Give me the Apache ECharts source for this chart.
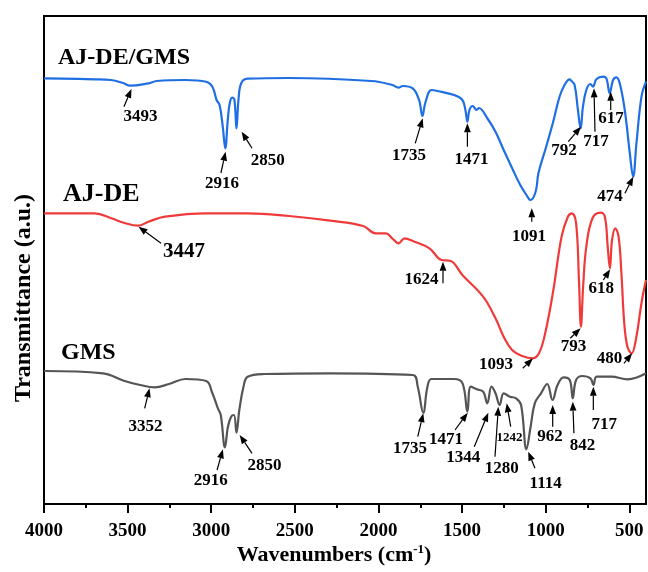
<!DOCTYPE html>
<html>
<head>
<meta charset="utf-8">
<script src="https://cdn.jsdelivr.net/npm/echarts@6/dist/echarts.min.js"></script>
<style>
  html, body { margin: 0; padding: 0; background: #fff; }
  #chart { width: 648px; height: 572px; }
</style>
</head>
<body>
<div id="chart"></div>
<script>
// ---- FTIR spectra: [wavenumber (cm-1), transmittance (a.u., offset for stacking)] ----
const xTickValues = [4000, 3500, 3000, 2500, 2000, 1500, 1000, 500];
const xMinorTicks = [3750, 3250, 2750, 2250, 1750, 1250, 750];

const seriesNames = ['AJ-DE/GMS', 'AJ-DE', 'GMS'];

const spectrumComposite = [
  [4000, 425.7], [3696, 424.7], [3600, 424], [3523, 420.7], [3487, 418.3], [3375, 420.7],
  [3326, 423], [3153, 424], [3030, 422.3], [2993, 417.3], [2968, 404], [2950, 399],
  [2931, 377.3], [2916, 355.7], [2901, 384], [2889, 401], [2874, 406.3], [2861, 404],
  [2849, 375.7], [2837, 404], [2820, 421], [2782, 425.3], [2536, 426], [2042, 423],
  [1917, 419], [1880, 416.3], [1855, 418], [1795, 415.7], [1757, 404], [1737, 388],
  [1720, 401], [1683, 414], [1646, 413], [1547, 409], [1498, 404], [1480, 394],
  [1468, 382.3], [1456, 394], [1437, 398], [1413, 394], [1399, 396], [1350, 386],
  [1300, 372.3], [1251, 354], [1201, 336], [1152, 319], [1115, 309], [1091, 304],
  [1060, 312.3], [1043, 331], [997, 357.3], [957, 381], [917, 407.3], [887, 419],
  [857, 424.7], [847, 423.3], [827, 419], [807, 394], [791, 375.7], [777, 397.3],
  [757, 414], [733, 420], [717, 417.3], [697, 424.7], [657, 427.3], [637, 425.7],
  [617, 410.7], [597, 424], [577, 426.7], [557, 420.7], [527, 394], [497, 351],
  [477, 327.3], [457, 361], [427, 407.3], [400, 422.3]
];

const spectrumExtract = [
  [4000, 290.7], [3697, 290.7], [3598, 285.7], [3523, 281.3], [3437, 278.3], [3375, 282.3],
  [3277, 287.3], [3030, 290.7], [2782, 290.7], [2535, 288], [2288, 283.3], [2091, 278],
  [2017, 270.7], [1955, 270.7], [1918, 265.7], [1880, 260.7], [1843, 265.7], [1794, 263],
  [1695, 255.7], [1622, 244], [1571, 243.3], [1498, 229], [1374, 207.3], [1300, 185.7],
  [1251, 167.3], [1201, 154], [1140, 148], [1078, 145.7], [1040, 150.7], [1003, 170.7],
  [954, 214], [905, 267.3], [867, 287.3], [843, 290.7], [818, 280.7], [801, 224],
  [789, 177.3], [776, 217.3], [757, 257.3], [720, 285.7], [671, 291.3], [646, 287.3],
  [629, 257.3], [616, 235.7], [603, 264], [584, 275.7], [564, 267.3], [547, 230.7],
  [530, 180.7], [511, 157.3], [486, 150.7], [461, 164], [424, 204], [400, 224]
];

const spectrumGms = [
  [4000, 133], [3647, 130.7], [3523, 123.3], [3425, 119], [3338, 116.7], [3252, 120],
  [3153, 125], [3030, 123], [2993, 110.7], [2960, 95.7], [2943, 89], [2918, 56.7],
  [2900, 77.3], [2881, 87.3], [2864, 89], [2849, 71.3], [2832, 94], [2807, 117.3],
  [2782, 127.3], [2683, 130], [2288, 130.7], [1794, 129], [1765, 117.3], [1732, 91.3],
  [1707, 117.3], [1683, 125], [1547, 125], [1497, 120.7], [1468, 92.3], [1448, 117.3],
  [1411, 114.7], [1374, 112.3], [1349, 100.7], [1324, 117.3], [1300, 110.7], [1275, 99],
  [1251, 110.7], [1214, 107.3], [1177, 105.7], [1147, 99], [1115, 54.7], [1090, 77.3],
  [1065, 100.7], [1028, 110.7], [991, 120], [959, 104], [929, 119], [893, 126.7],
  [856, 124], [838, 105.7], [818, 124], [781, 128], [732, 125.7], [714, 119],
  [695, 127.3], [608, 127.3], [510, 124.7], [400, 130.7]
];

// Peak labels: [text, wavenumber of arrow tip, transmittance of arrow tip]
const peaksComposite = [
  ['3493', 3477, 415], ['2916', 2914, 352.3], ['2850', 2818, 372.3], ['1735', 1735, 385.7],
  ['1471', 1468, 380.7], ['792', 789, 377.3], ['717', 711, 415.7], ['617', 611, 412.3],
  ['474', 476, 327.3], ['1091', 1083, 295.7]
];
const peaksExtract = [
  ['3447', 3435, 277.3], ['1624', 1614, 242.3], ['1093', 1076, 145.7], ['793', 791, 175.7],
  ['618', 614, 234.7], ['480', 483, 150.7]
];
const peaksGms = [
  ['3352', 3369, 115.7], ['2916', 2930, 54.7], ['2850', 2830, 69], ['1735', 1732, 90.7],
  ['1471', 1466, 91.3], ['1344', 1343, 91.3], ['1280', 1283, 97.3], ['1242', 1233, 100.7],
  ['1114', 1104, 52.3], ['962', 958, 99], ['842', 838, 102.3], ['717', 715, 117.3]
];

// Annotation layout: arrow tail [wn, T], text centre [wn, T], font size
const layoutComposite = [
  [[3522, 397.3], [3423, 387.3], 17], [[2942, 331], [2936, 320.7], 17],
  [[2756, 355.7], [2662, 343.3], 17], [[1780, 360.7], [1817, 348], 17],
  [[1468, 357.3], [1444, 344.7], 17], [[865, 362.3], [890, 353.3], 17],
  [[705, 372.3], [699, 362.3], 17], [[611, 394], [609, 385.7], 17],
  [[526, 310.7], [615, 307.3], 17], [[1083, 282.3], [1100, 267.3], 17]
];
const layoutExtract = [
  [[3300, 260.7], [3163, 252.3], 21], [[1614, 220.7], [1743, 224], 17],
  [[1137, 135.7], [1297, 139], 17], [[853, 165.7], [834, 157.3], 17],
  [[655, 224], [668, 215.7], 17], [[532, 140.7], [618, 145.7], 17]
];
const layoutGms = [
  [[3398, 95.7], [3393, 77.3], 17], [[2965, 34], [3003, 23.3], 17],
  [[2756, 50.7], [2681, 38], 17], [[1765, 67.3], [1811, 55.7], 17],
  [[1542, 74], [1596, 64.7], 17], [[1427, 57.3], [1493, 46.7], 17],
  [[1303, 47.3], [1263, 35.7], 17], [[1209, 77.3], [1217, 66.3], 13],
  [[1064, 35.7], [1000, 20], 17], [[958, 77.3], [974, 67.3], 17],
  [[831, 70.7], [779, 58], 17], [[715, 94], [649, 79.7], 17]
];

const SERIF = '"Liberation Serif", "Times New Roman", serif';
const colors = ['#1f6fe3', '#f03a3a', '#555555'];

function annotationSeries(peaks, layout) {
  return {
    type: 'custom',
    clip: false,
    silent: true,
    z: 5,
    data: peaks.map(p => [p[1], p[2]]),
    renderItem(params, api) {
      const i = params.dataIndex;
      const lay = layout[i];
      const tip = api.coord([api.value(0), api.value(1)]);
      const tail = api.coord(lay[0]);
      const txt = api.coord(lay[1]);
      const dx = tip[0] - tail[0], dy = tip[1] - tail[1];
      const len = Math.sqrt(dx * dx + dy * dy) || 1;
      const ux = dx / len, uy = dy / len;
      const head = 9, half = 3.4;
      const bx = tip[0] - ux * head, by = tip[1] - uy * head;
      return {
        type: 'group',
        children: [
          { type: 'line', shape: { x1: tail[0], y1: tail[1], x2: bx, y2: by },
            style: { stroke: '#000', lineWidth: 1.2 } },
          { type: 'polygon', shape: { points: [tip, [bx - uy * half, by + ux * half], [bx + uy * half, by - ux * half]] },
            style: { fill: '#000' } },
          { type: 'text', x: txt[0], y: txt[1],
            style: { text: peaks[i][0], align: 'center', verticalAlign: 'middle',
                     font: 'bold ' + lay[2] + 'px ' + SERIF, fill: '#000' } }
        ]
      };
    }
  };
}

function spectrumSeries(name, data, color) {
  return {
    name, type: 'line', data, showSymbol: false, smooth: 0.4,
    lineStyle: { color, width: 2.2, join: 'round' }, itemStyle: { color }, z: 3, silent: true
  };
}

const chart = echarts.init(document.getElementById('chart'), null, { renderer: 'canvas' });
chart.setOption({
  animation: false,
  backgroundColor: '#fff',
  grid: { left: 44, right: 2, top: 16, bottom: 68, show: true, borderColor: '#000', borderWidth: 2 },
  xAxis: [{
    type: 'value', min: 400, max: 4000, inverse: true,
    axisLine: { show: true, lineStyle: { color: '#000', width: 2 } },
    axisTick: { show: true, length: 9, lineStyle: { color: '#000', width: 2 }, customValues: xTickValues },
    axisLabel: { customValues: xTickValues, formatter: v => String(v), color: '#000',
                 fontFamily: SERIF, fontWeight: 'bold', fontSize: 19, margin: 18 },
    splitLine: { show: false }
  }, {
    type: 'value', min: 400, max: 4000, inverse: true, position: 'bottom',
    axisLine: { show: false },
    axisTick: { show: true, length: 4, lineStyle: { color: '#000', width: 2 }, customValues: xMinorTicks },
    axisLabel: { show: false },
    splitLine: { show: false }
  }],
  yAxis: {
    type: 'value', min: 0, max: 488,
    axisLine: { show: true, lineStyle: { color: '#000', width: 2 } },
    axisTick: { show: false }, axisLabel: { show: false }, splitLine: { show: false }
  },
  graphic: [
    { type: 'text', left: 58, top: 46, style: { text: seriesNames[0], font: 'bold 24px ' + SERIF, fill: '#000' } },
    { type: 'text', left: 63, top: 181, style: { text: seriesNames[1], font: 'bold 26px ' + SERIF, fill: '#000' } },
    { type: 'text', left: 61, top: 341, style: { text: seriesNames[2], font: 'bold 24px ' + SERIF, fill: '#000' } },
    { type: 'text', x: 24, y: 298, rotation: Math.PI / 2,
      style: { text: 'Transmittance (a.u.)', align: 'center', verticalAlign: 'middle', font: 'bold 24px ' + SERIF, fill: '#000' } },
    { type: 'text', x: 334, y: 555,
      style: { text: '{a|Wavenumbers (cm}{s|-1}{a|)}', align: 'center', verticalAlign: 'middle',
               rich: { a: { fontFamily: SERIF, fontWeight: 'bold', fontSize: 22, color: '#000', lineHeight: 24 },
                       s: { fontFamily: SERIF, fontWeight: 'bold', fontSize: 13, color: '#000', verticalAlign: 'top', lineHeight: 24 } } } }
  ],
  series: [
    spectrumSeries(seriesNames[0], spectrumComposite, colors[0]),
    spectrumSeries(seriesNames[1], spectrumExtract, colors[1]),
    spectrumSeries(seriesNames[2], spectrumGms, colors[2]),
    annotationSeries(peaksComposite, layoutComposite),
    annotationSeries(peaksExtract, layoutExtract),
    annotationSeries(peaksGms, layoutGms)
  ]
});
</script>
</body>
</html>
